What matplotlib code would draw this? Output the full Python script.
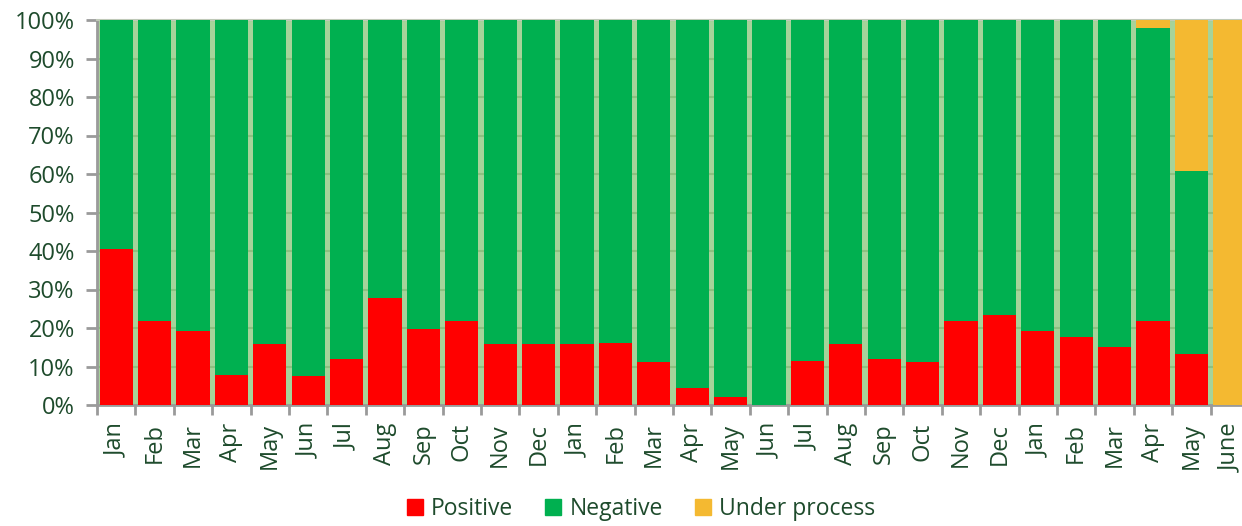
import matplotlib
matplotlib.use("Agg")
import matplotlib.pyplot as plt
from matplotlib.patches import Patch
from matplotlib.ticker import FixedLocator, FuncFormatter
import numpy as np

months = ["Jan", "Feb", "Mar", "Apr", "May", "Jun", "Jul", "Aug", "Sep", "Oct", "Nov", "Dec",
          "Jan", "Feb", "Mar", "Apr", "May", "Jun", "Jul", "Aug", "Sep", "Oct", "Nov", "Dec",
          "Jan", "Feb", "Mar", "Apr", "May", "June"]
positive = [40.4, 21.9, 19.2, 7.8, 15.9, 7.6, 11.9, 27.9, 19.7, 21.9, 15.9, 15.9,
            15.9, 16.1, 11.1, 4.5, 2.2, 0.0, 11.4, 15.8, 11.9, 11.1, 21.9, 23.5,
            19.3, 17.7, 15.1, 21.9, 13.3, 0.0]
under_process = [0]*27 + [2.1, 39.2, 100.0]
negative = [100 - p - u for p, u in zip(positive, under_process)]

c_pos = "#FF0000"
c_neg = "#00B050"
c_und = "#F4B931"
txt = "#1E4B2C"
bg = "#A6D39A"
grid_c = "#8DC080"
spine_c = "#9A9A9A"

plt.rcParams['font.family'] = ['Open Sans', 'DejaVu Sans']

fig = plt.figure(figsize=(12.42, 5.26), dpi=100)
ax = fig.add_axes([97/1242, 1-405/526, 1152/1242, 385/526])
ax.set_facecolor(bg)

x = np.arange(len(months))
w = 0.865
ax.bar(x, positive, width=w, color=c_pos, zorder=3, label="Positive")
ax.bar(x, negative, width=w, bottom=positive, color=c_neg, zorder=3, label="Negative")
bot2 = [p + n for p, n in zip(positive, negative)]
ax.bar(x, under_process, width=w, bottom=bot2, color=c_und, zorder=3, label="Under process")

ax.set_xlim(-0.5, len(months) - 0.5)
ax.set_ylim(0, 100)
ax.set_yticks(np.arange(0, 101, 10))
ax.yaxis.set_major_formatter(FuncFormatter(lambda v, p: f"{int(v)}%"))
ax.yaxis.grid(True, color=grid_c, linewidth=1.5, zorder=1)
ax.set_axisbelow(True)

ax.set_xticks(x)
ax.set_xticklabels(months, rotation=90)
ax.xaxis.set_minor_locator(FixedLocator(np.arange(-0.5, len(months), 1)))
ax.tick_params(axis='x', which='major', length=0, pad=13, labelsize=17, labelcolor=txt)
ax.tick_params(axis='x', which='minor', length=7, width=2, color=spine_c)
ax.tick_params(axis='y', which='major', length=8, width=2, color=spine_c, pad=8,
               labelsize=17, labelcolor=txt)

for s in ['left', 'bottom']:
    ax.spines[s].set_color(spine_c)
    ax.spines[s].set_linewidth(2)
ax.spines['right'].set_visible(False)
ax.spines['top'].set_color("#BFC9B8")
ax.spines['top'].set_linewidth(1.5)

handles = [Patch(color=c_pos), Patch(color=c_neg), Patch(color=c_und)]
fig.legend(handles, ["Positive", "Negative", "Under process"], loc='lower center',
           bbox_to_anchor=(0.516, -0.03), ncol=3, frameon=False, fontsize=16.5,
           handlelength=0.7, handleheight=0.7, handletextpad=0.35, columnspacing=1.4,
           labelcolor=txt)

fig.savefig("out.png", dpi=100)
